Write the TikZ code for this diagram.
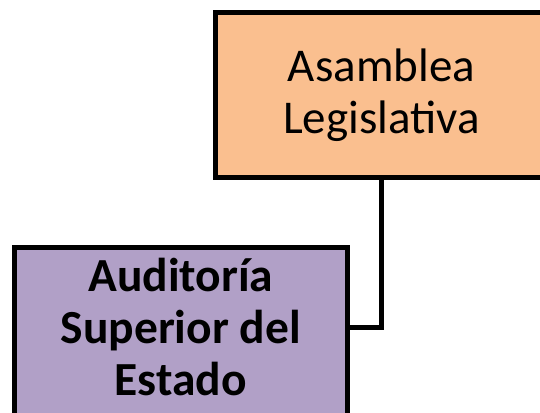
\documentclass[tikz,border=0pt]{standalone}
\usepackage{fontspec}
\setmainfont{Carlito}
\definecolor{orgfill}{HTML}{FABF8F}
\definecolor{purfill}{HTML}{B1A0C7}
\begin{document}
\begin{tikzpicture}[x=1pt,y=-1pt,
  orgbox/.style={draw=black, line width=5pt, fill=#1, minimum width=333pt, inner sep=0pt, align=center, outer sep=0pt},
  label text/.style={inner sep=0pt, align=center},
  link/.style={draw=black, line width=5pt}]
\useasboundingbox (0,0) rectangle (540,412);
\node[orgbox=orgfill, minimum height=165pt, font=\fontsize{47}{52}\selectfont] (asamblea) at (381.5,95) {Asamblea\\Legislativa};
\node[orgbox=purfill, minimum height=173pt] (auditoria) at (180.75,334) {};
\node[label text, font=\fontsize{47.5}{52}\selectfont\bfseries] (auditoriatext) at (180.75,327.5) {Auditoría\\Superior del\\Estado};
\coordinate (joint) at ([yshift=7pt]auditoria.east);
\draw[link] (asamblea.south) |- (joint);
\end{tikzpicture}
\end{document}
